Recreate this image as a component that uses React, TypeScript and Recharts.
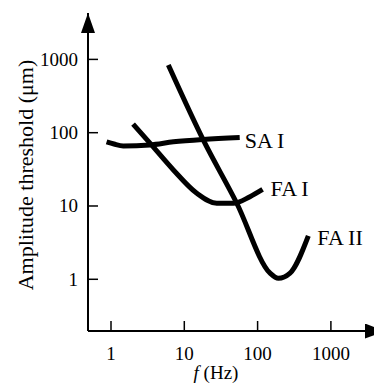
import { LineChart, Line, XAxis, YAxis, Label } from 'recharts';

// values (log-log axes)
const saFreq = [0.87, 1.1, 1.47, 3.4, 7.1, 18, 57];
const saAmp = [75, 70, 66, 68, 75, 81, 86];

const faIFreq = [2.0, 3.4, 7.1, 14.8, 27.7, 46.6, 78.7, 117];
const faIAmp = [131, 72, 31, 14.9, 10.9, 10.9, 13.4, 16.8];

const faIIFreq = [6.05, 18.2, 52, 148, 192, 277, 492];
const faIIAmp = [839, 79, 10.9, 1.21, 1.03, 1.21, 3.9];

const xTicks = [1, 10, 100, 1000];
const yTicks = [1, 10, 100, 1000];

const toPoints = (fs: number[], as: number[]) => fs.map((f, i) => ({ f, a: as[i] }));

const saI = toPoints(saFreq, saAmp);
const faI = toPoints(faIFreq, faIAmp);
const faII = toPoints(faIIFreq, faIIAmp);

const font = '"Liberation Serif", "Times New Roman", serif';
const tickFs = 19;
const nameFs = 22;

const YTick = (p: any) => {
  const { x, y, payload } = p;
  return (
    <g>
      <line x1={x} x2={x + 10} y1={y} y2={y} stroke="#000" strokeWidth={1.5} />
      <text x={x - 10} y={y} textAnchor="end" dominantBaseline="central" fontFamily={font} fontSize={tickFs} fill="#000">
        {payload.value}
      </text>
    </g>
  );
};

const XTick = (p: any) => {
  const { x, y, payload } = p;
  return (
    <g>
      <line x1={x} x2={x} y1={y} y2={y - 10} stroke="#000" strokeWidth={1.5} />
      <text x={x} y={y + 22} textAnchor="middle" dominantBaseline="central" fontFamily={font} fontSize={tickFs} fill="#000">
        {payload.value}
      </text>
    </g>
  );
};

const endLabel = (name: string, count: number, dx: number, dy: number) => (p: any) => {
  if (p.index !== count - 1) return null;
  return (
    <text x={p.x + dx} y={p.y + dy} dominantBaseline="central" fontFamily={font} fontSize={nameFs} fill="#000">
      {name}
    </text>
  );
};

export default function App() {
  return (
    <div style={{ position: 'absolute', left: 0, top: 0 }}>
      <svg width={0} height={0} style={{ position: 'absolute' }}>
        <defs>
          <marker id="arrowY" markerUnits="userSpaceOnUse" markerWidth={20} markerHeight={14} viewBox="0 0 20 14" refX={20} refY={7} orient="auto-start-reverse">
            <path d="M0,0 L20,7 L0,14 z" fill="#000" />
          </marker>
          <marker id="arrowX" markerUnits="userSpaceOnUse" markerWidth={20} markerHeight={15} viewBox="0 0 20 15" refX={9} refY={7.5} orient="auto">
            <path d="M0,0 L20,7.5 L0,15 z" fill="#000" />
          </marker>
        </defs>
      </svg>
      <LineChart width={374} height={389} margin={{ top: 13, right: 0, bottom: 0, left: 0 }}>
        <XAxis
          type="number"
          dataKey="f"
          scale="log"
          domain={[0.4855, 3873]}
          allowDataOverflow
          ticks={xTicks}
          height={58}
          tickSize={0}
          tickMargin={0}
          tickLine={false}
          tick={<XTick />}
          axisLine={{ stroke: '#000', strokeWidth: 2, markerEnd: 'url(#arrowX)' }}
        >
          <Label
            content={(p: any) => {
              const vb = p.viewBox;
              return (
                <text x={vb.x + 128} y={vb.y + 41} textAnchor="middle" dominantBaseline="central" fontFamily={font} fontSize={tickFs} fill="#000">
                  <tspan fontStyle="italic">f</tspan> (Hz)
                </text>
              );
            }}
          />
        </XAxis>
        <YAxis
          type="number"
          dataKey="a"
          scale="log"
          domain={[0.197, 4295]}
          allowDataOverflow
          ticks={yTicks}
          width={88}
          tickSize={0}
          tickMargin={0}
          tickLine={false}
          tick={<YTick />}
          axisLine={{ stroke: '#000', strokeWidth: 2, markerStart: 'url(#arrowY)' }}
        >
          <Label
            content={() => {
              const cx = 25;
              const cy = 175;
              return (
                <text x={cx} y={cy} transform={`rotate(-90 ${cx} ${cy})`} textAnchor="middle" dominantBaseline="central" fontFamily={font} fontSize={nameFs} fill="#000">
                  Amplitude threshold (μm)
                </text>
              );
            }}
          />
        </YAxis>
        <Line data={saI} dataKey="a" type="monotone" stroke="#000" strokeWidth={5} dot={false} isAnimationActive={false} label={endLabel('SA I', saI.length, 5, 3)} />
        <Line data={faI} dataKey="a" type="monotone" stroke="#000" strokeWidth={5} dot={false} isAnimationActive={false} label={endLabel('FA I', faI.length, 8, -1)} />
        <Line data={faII} dataKey="a" type="monotone" stroke="#000" strokeWidth={5} dot={false} isAnimationActive={false} label={endLabel('FA II', faII.length, 9, 2)} />
      </LineChart>
    </div>
  );
}
